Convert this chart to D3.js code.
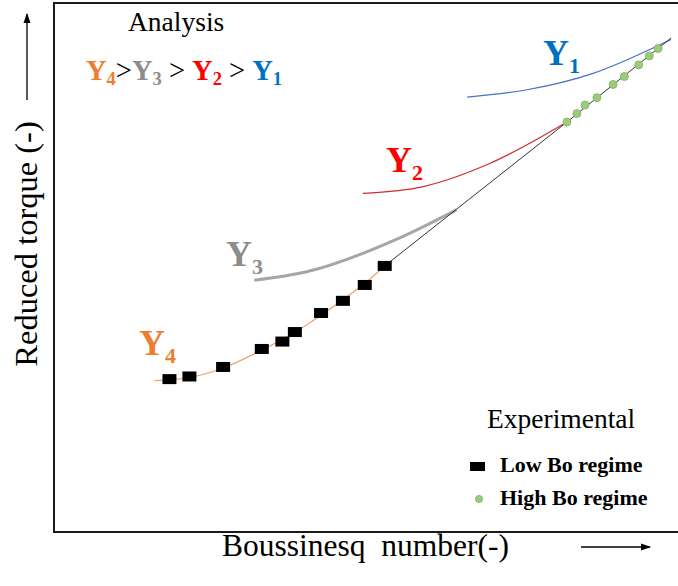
<!DOCTYPE html>
<html>
<head>
<meta charset="utf-8">
<script src="https://cdn.jsdelivr.net/npm/d3@7"></script>
<style>
  body { margin: 0; background: #fff; }
</style>
</head>
<body>
<div id="root"></div>
<script>
// experimental points (arbitrary units, 0-100 on both axes)
var lowBo = [
  [18.5, 28.9], [21.7, 29.4], [27.1, 31.2], [33.3, 34.6], [36.6, 36.0],
  [38.6, 37.8], [42.8, 41.4], [46.3, 43.7], [49.8, 46.7], [53.0, 50.3]
];
var highBo = [
  [82.2, 77.5], [83.8, 79.1], [85.1, 80.7], [87.0, 82.1], [89.6, 84.6],
  [91.4, 86.1], [93.7, 88.3], [95.4, 90.0], [96.8, 91.4]
];
// trend line through the experiments
var expLine = [[53.0, 50.3], [82.2, 77.5], [98.9, 93.4]];
// analysis curves
var curveY1 = [[66.2, 82.2], [75.8, 83.6], [86.4, 86.7], [97.1, 92.1], [98.9, 93.1]];
var curveY2 = [[49.5, 64.0], [59.2, 65.3], [69.9, 69.7], [82.2, 77.5]];
var curveY3 = [[32.1, 47.6], [40.5, 49.2], [55.4, 55.6], [64.5, 60.9]];
var curveY4 = [[16.1, 28.6], [21.7, 29.2], [27.1, 31.0], [33.3, 34.4], [38.6, 37.7],
               [42.8, 41.0], [46.3, 43.9], [49.8, 47.0], [53.0, 50.3]];

var FONT = "'Liberation Serif', 'Times New Roman', Tinos, 'DejaVu Serif', serif";
var W = 678, H = 586;
var svg = d3.select("#root").append("svg")
  .attr("width", W).attr("height", H)
  .attr("font-family", FONT)
  .style("font-family", FONT);

var x = d3.scaleLinear().domain([0, 100]).range([54, 678]);
var y = d3.scaleLinear().domain([0, 100]).range([532, 3]);

var line = d3.line()
  .x(function(d) { return x(d[0]); })
  .y(function(d) { return y(d[1]); })
  .curve(d3.curveMonotoneX);

// frame (open on the right)
svg.append("path")
  .attr("d", "M679,3H54V532H679")
  .attr("fill", "none").attr("stroke", "#1a1a1a").attr("stroke-width", 2);

// analysis curves
var curves = [
  { data: curveY1, color: "#4472C4", w: 1.2 },
  { data: curveY2, color: "#D02C2C", w: 1.2 },
  { data: curveY3, color: "#A6A6A6", w: 3 },
  { data: curveY4, color: "#F4A26A", w: 1.3 }
];
svg.selectAll("path.curve")
  .data(curves).enter().append("path")
  .attr("class", "curve")
  .attr("d", function(d) { return line(d.data); })
  .attr("fill", "none")
  .attr("stroke", function(d) { return d.color; })
  .attr("stroke-width", function(d) { return d.w; });

svg.append("path")
  .attr("d", d3.line().x(function(d) { return x(d[0]); }).y(function(d) { return y(d[1]); })(expLine))
  .attr("fill", "none").attr("stroke", "#333").attr("stroke-width", 1);

// markers
svg.selectAll("rect.low")
  .data(lowBo).enter().append("rect")
  .attr("class", "low")
  .attr("x", function(d) { return x(d[0]) - 7; })
  .attr("y", function(d) { return y(d[1]) - 5; })
  .attr("width", 14).attr("height", 10)
  .attr("fill", "#000");

svg.selectAll("circle.high")
  .data(highBo).enter().append("circle")
  .attr("class", "high")
  .attr("cx", function(d) { return x(d[0]); })
  .attr("cy", function(d) { return y(d[1]); })
  .attr("r", 4)
  .attr("fill", "#9CCB7C").attr("stroke", "#7DB35A").attr("stroke-width", 0.8);

// curve labels
var labels = [
  { n: "1", x: 543, y: 65, color: "#0070C0" },
  { n: "2", x: 386, y: 172, color: "#FF0000" },
  { n: "3", x: 226, y: 266, color: "#8C8C8C" },
  { n: "4", x: 139, y: 355, color: "#ED7D31" }
];
labels.forEach(function(l) {
  var t = svg.append("text")
    .attr("x", l.x).attr("y", l.y)
    .attr("fill", l.color).attr("font-weight", "bold")
    .attr("font-size", 36);
  t.append("tspan").text("Y");
  t.append("tspan").attr("dy", 8).attr("font-size", 22).text(l.n);
});

// analysis note
svg.append("text")
  .attr("x", 128).attr("y", 31)
  .attr("font-size", 27.5).attr("fill", "#000")
  .text("Analysis");

var order = [
  { n: "4", color: "#ED7D31", sep: ">" },
  { n: "3", color: "#8C8C8C", sep: " > " },
  { n: "2", color: "#FF0000", sep: " > " },
  { n: "1", color: "#0070C0", sep: null }
];
var note = svg.append("text")
  .attr("x", 86).attr("y", 80)
  .attr("font-size", 28.5)
  .style("white-space", "pre");
order.forEach(function(o) {
  note.append("tspan").attr("fill", o.color).attr("font-weight", "bold").text("Y");
  note.append("tspan").attr("fill", o.color).attr("font-weight", "bold")
    .attr("font-size", 18.5).attr("dy", 5).text(o.n);
  if (o.sep) {
    note.append("tspan").attr("fill", "#000").attr("dy", -5).text(o.sep);
  }
});

// legend
svg.append("text")
  .attr("x", 487).attr("y", 428)
  .attr("font-size", 27.5).attr("fill", "#000")
  .text("Experimental");

svg.append("rect")
  .attr("x", 470).attr("y", 462).attr("width", 15).attr("height", 9)
  .attr("fill", "#000");
svg.append("text")
  .attr("x", 500).attr("y", 472)
  .attr("font-size", 22).attr("font-weight", "bold").attr("fill", "#000")
  .text("Low Bo regime");

svg.append("circle")
  .attr("cx", 479).attr("cy", 499).attr("r", 3.6)
  .attr("fill", "#9CCB7C").attr("stroke", "#7DB35A").attr("stroke-width", 0.8);
svg.append("text")
  .attr("x", 500).attr("y", 505)
  .attr("font-size", 22).attr("font-weight", "bold").attr("fill", "#000")
  .text("High Bo regime");

// axis titles with arrows
var defs = svg.append("defs");
defs.append("marker")
  .attr("id", "arrow")
  .attr("viewBox", "0 0 10 10")
  .attr("refX", 9).attr("refY", 5)
  .attr("markerWidth", 8).attr("markerHeight", 8)
  .attr("orient", "auto")
  .append("path").attr("d", "M0,1.5L10,5L0,8.5Z").attr("fill", "#000");

svg.append("line")
  .attr("x1", 27).attr("y1", 100).attr("x2", 27).attr("y2", 14)
  .attr("stroke", "#000").attr("stroke-width", 1.3)
  .attr("marker-end", "url(#arrow)");

svg.append("text")
  .attr("transform", "translate(37,244) rotate(-90)")
  .attr("text-anchor", "middle")
  .attr("font-size", 32.5).attr("fill", "#000")
  .text("Reduced torque (-)");

svg.append("text")
  .attr("x", 222).attr("y", 556)
  .attr("font-size", 31.5).attr("fill", "#000")
  .style("white-space", "pre")
  .text("Boussinesq  number(-)");

svg.append("line")
  .attr("x1", 581).attr("y1", 547).attr("x2", 650).attr("y2", 547)
  .attr("stroke", "#000").attr("stroke-width", 1.3)
  .attr("marker-end", "url(#arrow)");
</script>
</body>
</html>
